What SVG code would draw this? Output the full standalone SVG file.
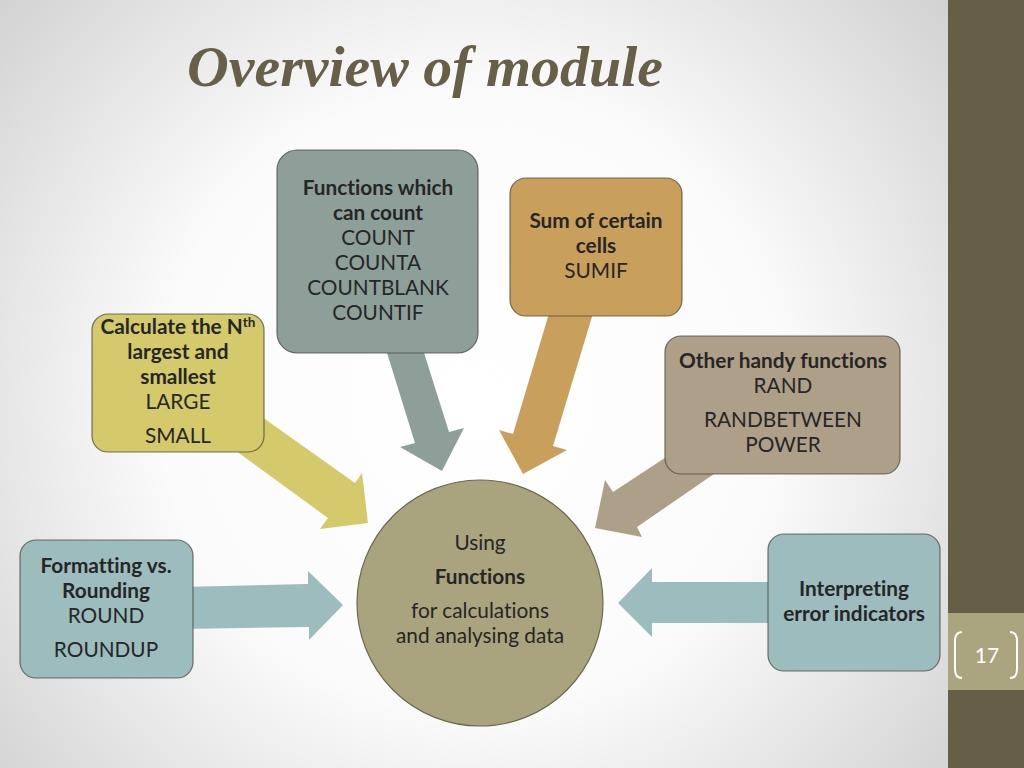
<svg xmlns="http://www.w3.org/2000/svg" width="1024" height="768" viewBox="0 0 1024 768">
<defs>
<radialGradient id="bg" cx="470" cy="400" r="620" gradientUnits="userSpaceOnUse">
<stop offset="0" stop-color="#ffffff"/>
<stop offset="0.5" stop-color="#fbfbfb"/>
<stop offset="1" stop-color="#d2d2d2"/>
</radialGradient>
<style>
.box{stroke:#4a4a3a;stroke-opacity:0.75;stroke-width:1.2}
.t{font-family:Lato,"Open Sans","Liberation Sans",sans-serif;font-size:20.8px;fill:#262626;text-anchor:middle;font-variant-ligatures:none}
.b{font-weight:bold}
.gray{fill:#8e9f99}
.orange{fill:#c9a05b}
.yellow{fill:#d4c96b}
.tan{fill:#ae9f88}
.teal{fill:#9cbcbd}
</style>
</defs>
<rect x="0" y="0" width="1024" height="768" fill="url(#bg)"/>
<rect x="948" y="0" width="76" height="768" fill="#675e48"/>
<rect x="948" y="613" width="76" height="77" fill="#aaa57f"/>
<g fill="none" stroke="#ffffff" stroke-width="2">
<path d="M962,632 Q955,632 955,641 L955,669 Q955,678 962,678"/>
<path d="M1010,632 Q1017,632 1017,641 L1017,669 Q1017,678 1010,678"/>
</g>
<text x="987" y="663" font-family="Lato,'Open Sans','Liberation Sans',sans-serif" font-size="21" fill="#ffffff" text-anchor="middle">17</text>
<text x="187" y="86" font-family="'Liberation Serif','DejaVu Serif',serif" font-size="58" font-weight="bold" font-style="italic" fill="#675f47" textLength="476" lengthAdjust="spacingAndGlyphs">Overview of module</text>

<g id="connectors">
<polygon class="gray" points="383,340 420,340 449,432 464,428 442,471 400,447 415,443"/>
<polygon class="orange" points="553,300 597,300 553,446 567,450 523,474 499,430 513,434"/>
<polygon class="yellow" points="255,412 355,483 362,473 368,523 320,529 328,518 228,445"/>
<polygon class="tan" points="680,448 613,492 605,480 595,528 642,537 637,527 727,465"/>
<polygon class="teal" points="180,587 308,584 308,571 343,605 309,640 309,627 180,629"/>
<polygon class="teal" points="618,603 652,568 652,582 780,582 780,623 652,623 652,637"/>
</g>

<g id="center">
<circle cx="480" cy="603" r="123" fill="#a9a47e" stroke="#6b6a50" stroke-width="1.2"/>
<text class="t" x="480" y="550">Using</text>
<text class="t b" x="480" y="584">Functions</text>
<text class="t" x="480" y="618">for calculations</text>
<text class="t" x="480" y="643">and analysing data</text>
</g>

<g id="count">
<rect class="box gray" x="277" y="150" width="201" height="203" rx="20"/>
<text class="t b" x="378" y="195">Functions which</text>
<text class="t b" x="378" y="220">can count</text>
<text class="t" x="378" y="245">COUNT</text>
<text class="t" x="378" y="270">COUNTA</text>
<text class="t" x="378" y="295">COUNTBLANK</text>
<text class="t" x="378" y="320">COUNTIF</text>
</g>

<g id="sum">
<rect class="box orange" x="510" y="178" width="172" height="138" rx="16"/>
<text class="t b" x="596" y="228">Sum of certain</text>
<text class="t b" x="596" y="253">cells</text>
<text class="t" x="596" y="278">SUMIF</text>
</g>

<g id="nth">
<rect class="box yellow" x="92" y="314" width="172" height="138" rx="16"/>
<text class="t b" x="178" y="334">Calculate the N<tspan font-size="13.5" dy="-7">th</tspan></text>
<text class="t b" x="178" y="359">largest and</text>
<text class="t b" x="178" y="384">smallest</text>
<text class="t" x="178" y="409">LARGE</text>
<text class="t" x="178" y="443">SMALL</text>
</g>

<g id="handy">
<rect class="box tan" x="665" y="336" width="235" height="138" rx="16"/>
<text class="t b" x="783" y="368">Other handy functions</text>
<text class="t" x="783" y="393">RAND</text>
<text class="t" x="783" y="427">RANDBETWEEN</text>
<text class="t" x="783" y="452">POWER</text>
</g>

<g id="rounding">
<rect class="box teal" x="20" y="540" width="173" height="138" rx="16"/>
<text class="t b" x="106" y="573">Formatting vs.</text>
<text class="t b" x="106" y="598">Rounding</text>
<text class="t" x="106" y="623">ROUND</text>
<text class="t" x="106" y="657">ROUNDUP</text>
</g>

<g id="errors">
<rect class="box teal" x="768" y="534" width="172" height="137" rx="16"/>
<text class="t b" x="854" y="596">Interpreting</text>
<text class="t b" x="854" y="621">error indicators</text>
</g>
</svg>
